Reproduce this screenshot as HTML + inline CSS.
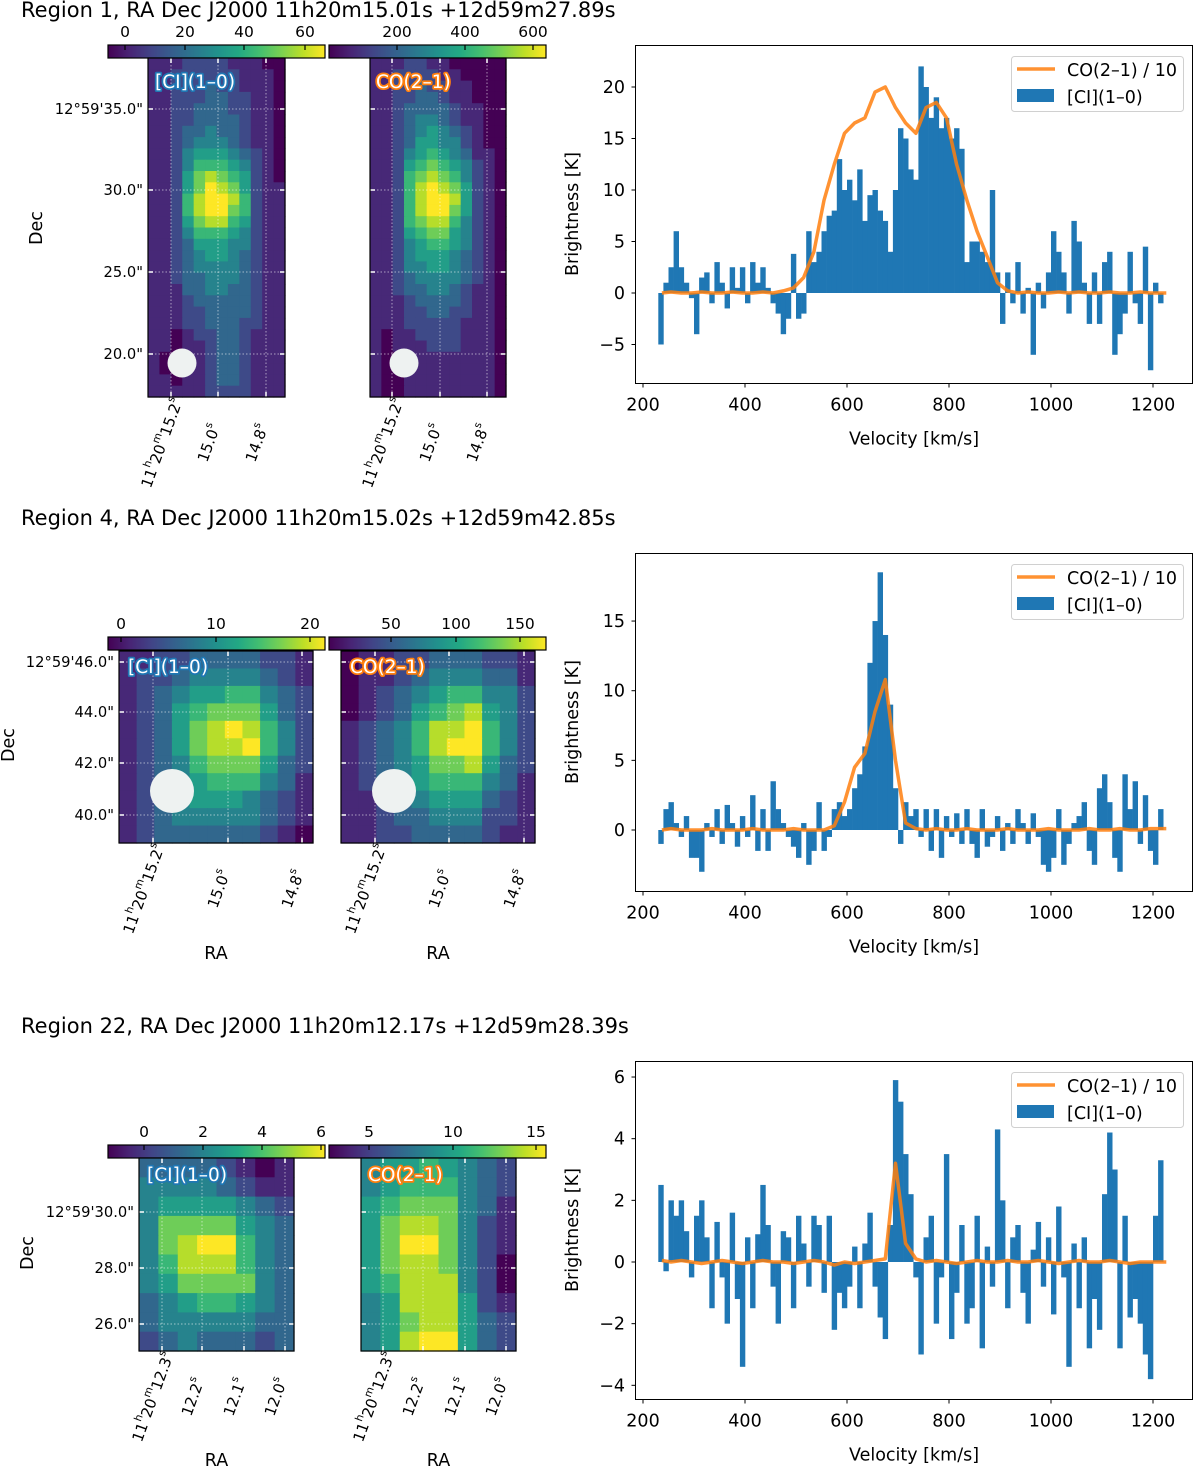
<!DOCTYPE html>
<html><head><meta charset="utf-8">
<style>
html,body{margin:0;padding:0;background:#fff;}
svg{display:block;font-family:"DejaVu Sans","Liberation Sans",sans-serif;}
</style></head>
<body>
<svg id="fig" xmlns="http://www.w3.org/2000/svg" width="1200" height="1468" viewBox="0 0 1200 1468">
<defs>
<linearGradient id="viridis" x1="0" x2="1" y1="0" y2="0">
<stop offset="0" stop-color="#440154"/><stop offset="0.1" stop-color="#482475"/><stop offset="0.2" stop-color="#414487"/><stop offset="0.3" stop-color="#355f8d"/><stop offset="0.4" stop-color="#2a788e"/><stop offset="0.5" stop-color="#21918c"/><stop offset="0.6" stop-color="#22a884"/><stop offset="0.7" stop-color="#44bf70"/><stop offset="0.8" stop-color="#7ad151"/><stop offset="0.9" stop-color="#bddf26"/><stop offset="1" stop-color="#fde725"/>
</linearGradient>
</defs>
<text x="21" y="17" font-size="21">Region 1, RA Dec J2000 11h20m15.01s +12d59m27.89s</text>
<text x="21" y="525" font-size="21">Region 4, RA Dec J2000 11h20m15.02s +12d59m42.85s</text>
<text x="21" y="1033" font-size="21">Region 22, RA Dec J2000 11h20m12.17s +12d59m28.39s</text>
<g id="layer"></g>
</svg>
<script>
// ---------- spectra data (velocity channels: start + step) ----------
const ciStart = 235, ciStep = 10;
const coStart = 235, coStep = 20;
const xTicks = [200, 400, 600, 800, 1000, 1200];

const region1CI = [-5,1,2.5,6,2.5,1,-0.5,-4,1.5,2,-1,3,1,-1.5,2.5,0.5,2.5,-1,3,1,2.5,0.5,-1,-2,-4,-2.5,3.8,-2.5,-2,6,3,4,6,7.5,8,13,10,11,9,12,7,9.5,10,8,7,4,10,16,15,12,11,22,20,17,19,16,17,15,16,14,3,5,5,4,3,10,2,-3,2,-1,3,-2,0.5,-6,1,-1.5,2,6,4,2,-2,7,5,1,-3,2,-3,3,4,-6,-4,-2,4,-1,-3,4.5,-7.5,1,-1];
const region1CO = [0,0.1,0,0,0.1,0,0,0.1,0,0,0.1,0,0.2,0.5,1.5,4,9,12.5,15.5,16.5,17,19.5,20,18,16.5,15.5,18,18.5,17,12.5,9,6,3.5,1,0.2,0,0.1,0,0,0.1,0,0.1,0,0,0.1,0,0,0.1,0,0];
const region1YTicks = [-5, 0, 5, 10, 15, 20];

const region4CI = [-1,1.5,2,0.5,-0.5,1,-2,-2,-3,0.5,-0.5,1.5,-1,1.8,0.5,-1.2,1,-0.5,2.5,-1.5,1.5,-1.5,3.5,1.5,0.5,-0.5,-1.2,-2,0.5,-2.5,-1.5,2,-1.5,-0.5,1.5,2,1,1.5,3,4,6,12,15,18.5,14,9,3,-1,2,1,1.5,-0.5,1.5,-1.5,1.5,-2,1,-0.5,1.2,-1,1.5,-1,-2,1.5,-1.2,-0.5,1,-1.5,0.5,-1,1.5,0.5,-1,1.2,-0.5,-2.5,-3,-2,1.5,-2.5,-1,0.5,1,2,-1.5,-2.5,3,4,2,-2,-3,4,1.5,3.5,-1,2.5,-1.5,-2.5,1.5];
const region4CO = [0,0.1,0,0,0,0.1,0,0,0,0.1,0,0,0,0.1,0,0,0,0.3,2,4.5,5.5,8.5,10.8,5,0.5,0.1,0,0.1,0,0,0.1,0,0,0,0.1,0,0,0,0.1,0,0,0,0.1,0,0,0.1,0,0,0.1,0.1];
const region4YTicks = [0, 5, 10, 15];

const region22CI = [2.5,-0.3,2,1.5,2,1,-0.5,1.5,2,0.8,-1.5,1.3,-0.5,-2,1.6,-1.2,-3.4,0.8,-1.5,0.9,2.5,1.2,-0.8,-2,1,0.8,-1.5,1.5,0.6,-0.8,1.5,1.2,-1,1.5,-2.2,-1,-1.5,-0.8,0.5,-1.5,0.6,1.6,-0.8,-1.8,-2.5,1.2,5.9,5.2,3.5,2.2,-0.5,-3,0.8,1.5,-2,-0.5,3.5,-2.5,-1,1.2,-2,-1.5,1.5,-2.8,0.5,-0.8,4.3,2,-1.5,0.8,1.2,-1,-2,0.4,1.3,-0.8,0.8,-1.7,1.8,-0.5,-3.4,0.6,-1.5,0.8,-2.8,-1.2,-2.2,2.2,4.2,3,-2.8,1.5,-1.8,-1.2,-2,-3,-3.8,1.5,3.3];
const region22CO = [0.05,0,0.05,0,-0.05,0,0.05,0,-0.05,0,0.05,0,0,-0.05,0,0.05,0,-0.1,0,-0.05,0,0.05,0.1,3.2,0.6,0.1,0,0.05,0,-0.05,0,0.05,0,0,0.05,0,0,0.05,0,-0.05,0,0.05,0,0,0.05,0,-0.05,0,0,0];
const region22YTicks = [-4, -2, 0, 2, 4, 6];

// ---------- map data (digits 0-9 = colormap fraction) ----------
const region1CIMap = ["111222211100","112222221110","112223221110","112223322110","112233322110","112233332110","112334332110","112344432110","112455543210","112466654210","112578765210","112579875211","112689986211","112689976211","112578865211","112466654211","112355544211","112345543211","112344443211","112334443211","111334433211","111233333211","111223333211","111223332211","110122332111","110112332111","100112332111","100112332111","110112332111","111112222111"];
const region1COMap = ["111221100000","112222110000","112232211000","112233211000","112333321100","112344321100","112345432100","112355442100","112456543110","112567654210","112678764210","112689875210","112689985210","112689975210","112678864210","112567754210","112456654210","112455543210","112445543210","112344443210","112334432110","111233332110","111223322110","111222221110","101122221110","101112221110","100111111110","100111111110","100111111110","100111111110"];
const region4CIMap = ["11223333221","12234444321","12345566432","12356777532","12357898642","12357889642","12346777532","12345666431","12345554321","12344444321","12333333210"];
const region4COMap = ["01122333221","01123444331","01234566442","01235678542","12346889642","12346899642","12345778532","12345666431","11234555321","11233444221","11223333211"];
const region22CIMap = ["33332101","44443211","45555432","47777543","47899643","46888643","45777743","34566543","34444433","23433323"];
const region22COMap = ["45565432","45666432","56777431","57887421","57997421","57887420","56888420","45888521","45788532","45899532"];

// colorbar tick labels
const cb1CI = ["0","20","40","60"], cb1CO = ["200","400","600"];
const cb4CI = ["0","10","20"], cb4CO = ["50","100","150"];
const cb22CI = ["0","2","4","6"], cb22CO = ["5","10","15"];

const NS = "http://www.w3.org/2000/svg";
const layer = document.getElementById("layer");
function mk(tag, attrs, parent) {
  const e = document.createElementNS(NS, tag);
  for (const k in attrs) e.setAttribute(k, attrs[k]);
  (parent || layer).appendChild(e);
  return e;
}
const VIR = ["#440154","#482475","#414487","#355f8d","#2a788e","#21918c","#22a884","#44bf70","#7ad151","#bddf26","#fde725"];
function hex(c){return [parseInt(c.substr(1,2),16),parseInt(c.substr(3,2),16),parseInt(c.substr(5,2),16)];}
function viridis(t){
  t = Math.max(0, Math.min(1, t));
  const f = t*10, i = Math.min(9, Math.floor(f)), r = f - i;
  const a = hex(VIR[i]), b = hex(VIR[i+1]);
  return "rgb(" + a.map((v,k)=>Math.round(v+(b[k]-v)*r)).join(",") + ")";
}

// ---------- spectrum ----------
function xs(v){ return 643 + (v - 200) * 0.51; }
function drawSpectrum(cfg) {
  const ys = v => cfg.y0 - v * cfg.ppu;
  const g = mk("g", {});
  
  
  cfg.ci.forEach((val, i) => {
    const v = ciStart + i * ciStep;
    const x = xs(v - ciStep / 2), w = ciStep * 0.51;
    const y = Math.min(ys(val), cfg.y0), h = Math.abs(ys(val) - cfg.y0);
    const r = mk("rect", {x: x, y: y, width: w + 0.3, height: Math.max(h, 0.5), fill: "#1f77b4"}, g);
    
    
  });
  let d = "";
  cfg.co.forEach((val, i) => {
    const v = Math.min(Math.max(coStart + i * coStep, 237), 1226);
    d += (i === 0 ? "M" : "L") + xs(v).toFixed(1) + "," + ys(val).toFixed(1);
  });
  d += "L" + xs(1226).toFixed(1) + "," + ys(cfg.co[cfg.co.length - 1]).toFixed(1);
  const line = mk("path", {d: d, fill: "none", stroke: "#ff7f0e", "stroke-width": 3.5, "stroke-opacity": 0.85, "stroke-linejoin": "round"}, g);
  
  
  const fr = mk("rect", {x: 635.5, y: cfg.top + 0.5, width: 557, height: 338, fill: "none", stroke: "#000", "stroke-width": 1}, g);
  
  
  const bottom = cfg.top + 338.5;
  xTicks.forEach(t => {
    mk("line", {x1: xs(t), x2: xs(t), y1: bottom, y2: bottom + 4, stroke: "#000"}, g);
    const tl = mk("text", {x: xs(t), y: bottom + 27, "font-size": 17.5, "text-anchor": "middle"}, g);
    tl.textContent = String(t);
    
    
  });
  cfg.yTicks.forEach(t => {
    mk("line", {x1: 631.5, x2: 635.5, y1: ys(t), y2: ys(t), stroke: "#000"}, g);
    const tl = mk("text", {x: 625, y: ys(t) + 6, "font-size": 17.5, "text-anchor": "end"}, g);
    tl.textContent = (t < 0 ? "\u2212" + (-t) : String(t));
    
    
  });
  const xl = mk("text", {x: 914, y: bottom + 61, "font-size": 17.5, "text-anchor": "middle"}, g);
  xl.textContent = "Velocity [km/s]";
  
  
  const cy = cfg.top + 169;
  const yl = mk("text", {x: 578, y: cy, "font-size": 17.5, "text-anchor": "middle", transform: "rotate(-90,578," + cy + ")"}, g);
  yl.textContent = "Brightness [K]";
  
  
  const lg = mk("g", {}, g);
  
  
  const lt = cfg.top + 11;
  mk("rect", {x: 1011.5, y: lt + 0.5, width: 172, height: 55, rx: 3, fill: "#fff", "fill-opacity": 0.8, stroke: "#d0d0d0"}, lg);
  mk("line", {x1: 1017, x2: 1055, y1: lt + 13, y2: lt + 13, stroke: "#ff7f0e", "stroke-width": 3.5, "stroke-opacity": 0.85}, lg);
  mk("rect", {x: 1017, y: lt + 33, width: 37, height: 13, fill: "#1f77b4"}, lg);
  const t1 = mk("text", {x: 1067, y: lt + 20, "font-size": 17.5}, lg);
  t1.textContent = "CO(2\u20131) / 10";
  
  
  const t2 = mk("text", {x: 1067, y: lt + 47, "font-size": 17.5}, lg);
  t2.textContent = "[CI](1\u20130)";
  
  
}

// ---------- map ----------
function drawMap(m) {
  const g = mk("g", {});
  
  
  const rows = m.grid.length, cols = m.grid[0].length;
  const cw = (m.x1 - m.x0) / cols, ch = (m.y1 - m.y0) / rows;
  m.grid.forEach((row, r) => {
    for (let c = 0; c < cols; c++) {
      const cell = mk("rect", {x: m.x0 + c * cw, y: m.y0 + r * ch, width: cw + 0.6, height: ch + 0.6, fill: viridis(+row[c] / 9)}, g);
      
      
    }
  });
  m.gx.forEach(x => {
    mk("line", {x1: x, x2: x, y1: m.y0, y2: m.y1, stroke: "#fff", "stroke-opacity": 0.55, "stroke-dasharray": "1.5,2"}, g);
    mk("line", {x1: x, x2: x, y1: m.y0, y2: m.y0 + 5, stroke: "#fff", "stroke-width": 1.5}, g);
    mk("line", {x1: x, x2: x, y1: m.y1 - 5, y2: m.y1, stroke: "#fff", "stroke-width": 1.5}, g);
  });
  m.gy.forEach(y => {
    mk("line", {x1: m.x0, x2: m.x1, y1: y, y2: y, stroke: "#fff", "stroke-opacity": 0.55, "stroke-dasharray": "1.5,2"}, g);
    mk("line", {x1: m.x0, x2: m.x0 + 5, y1: y, y2: y, stroke: "#fff", "stroke-width": 1.5}, g);
    mk("line", {x1: m.x1 - 5, x2: m.x1, y1: y, y2: y, stroke: "#fff", "stroke-width": 1.5}, g);
  });
  if (m.beam) {
    const b = mk("circle", {cx: m.beam[0], cy: m.beam[1], r: m.beam[2], fill: "#eef2f1"}, g);
    
    
  }
  mk("rect", {x: m.x0, y: m.y0, width: m.x1 - m.x0, height: m.y1 - m.y0, fill: "none", stroke: "#000", "stroke-width": 1.2}, g);
  const lab = mk("text", {x: m.x0 + m.lx, y: m.y0 + m.ly, "font-size": 18.5, fill: "#fff", stroke: m.stroke, "stroke-width": 3.5, "paint-order": "stroke", "stroke-linejoin": "round"}, g);
  lab.textContent = m.label;
  
  
  m.ra.forEach((lbl, i) => {
    const cx = m.gx[i] - 9, cy = m.y1 + 46;
    const t = mk("text", {x: cx, y: cy, "font-size": 15, "text-anchor": "middle", "dominant-baseline": "central", transform: "rotate(-70," + cx + "," + cy + ")"}, g);
    t.innerHTML = lbl;
    
    
  });
  if (m.dec) {
    m.dec.forEach((lbl, i) => {
      const t = mk("text", {x: m.x0 - 5, y: m.gy[i] + 5, "font-size": 14.7, "text-anchor": "end"}, g);
      t.textContent = lbl;
      
      
    });
  }
  if (m.raTitle) {
    const t = mk("text", {x: (m.x0 + m.x1) / 2, y: m.raTitle, "font-size": 17.5, "text-anchor": "middle"}, g);
    t.textContent = "RA";
    
    
  }
}
function drawColorbar(x0, x1, y0, labels, tickX) {
  const g = mk("g", {});
  
  
  mk("rect", {x: x0, y: y0, width: x1 - x0, height: 13, fill: "url(#viridis)", stroke: "#000", "stroke-width": 1.2}, g);
  labels.forEach((l, i) => {
    mk("line", {x1: tickX[i], x2: tickX[i], y1: y0, y2: y0 + 5, stroke: "#000", "stroke-width": 1.2}, g);
    const t = mk("text", {x: tickX[i], y: y0 - 8, "font-size": 15.5, "text-anchor": "middle"}, g);
    t.textContent = l;
    
    
  });
}
function decTitle(x, y) {
  const t = mk("text", {x: x, y: y, "font-size": 17.5, "text-anchor": "middle", transform: "rotate(-90," + x + "," + y + ")"});
  t.textContent = "Dec";
  
  
}
const S = '<tspan font-size="10.5" dy="-6">', E = '</tspan><tspan dy="6">';
function ra(base, sec) { return base ? '11' + S + 'h' + E + '20' + '</tspan>' + S + 'm' + E + sec + '</tspan>' + S + 's</tspan>' : sec + S + 's</tspan>'; }

// Row 1
drawColorbar(108, 325, 45, cb1CI, [125, 185, 244, 305]);
drawColorbar(329, 546, 45, cb1CO, [397, 465, 533]);
drawMap({name: "region-1-ci-map", grid: region1CIMap, x0: 148, x1: 285, y0: 58, y1: 397, gx: [171, 218, 266], gy: [109, 190, 272, 354], beam: [182, 363, 14.5], label: "[CI](1\u20130)", stroke: "#1f77b4", lx: 7, ly: 30, ra: [ra(1, "15.2"), ra(0, "15.0"), ra(0, "14.8")], dec: ["12\u00b059'35.0\"", "30.0\"", "25.0\"", "20.0\""]});
drawMap({name: "region-1-co-map", grid: region1COMap, x0: 370, x1: 506, y0: 58, y1: 397, gx: [392, 440, 487], gy: [109, 190, 272, 354], beam: [404, 363, 14.5], label: "CO(2\u20131)", stroke: "#ff7f0e", lx: 6, ly: 30, ra: [ra(1, "15.2"), ra(0, "15.0"), ra(0, "14.8")]});
decTitle(42, 228);
drawSpectrum({name: "region-1", ci: region1CI, co: region1CO, yTicks: region1YTicks, y0: 293, ppu: 10.3, top: 45});

// Row 2
drawColorbar(108, 325, 637, cb4CI, [121, 216, 310]);
drawColorbar(329, 546, 637, cb4CO, [391, 456, 520]);
drawMap({name: "region-4-ci-map", grid: region4CIMap, x0: 119, x1: 313, y0: 651, y1: 843, gx: [153, 228, 302], gy: [662, 712, 763, 815], beam: [172, 791, 22], label: "[CI](1\u20130)", stroke: "#1f77b4", lx: 9, ly: 22, ra: [ra(1, "15.2"), ra(0, "15.0"), ra(0, "14.8")], dec: ["12\u00b059'46.0\"", "44.0\"", "42.0\"", "40.0\""], raTitle: 959});
drawMap({name: "region-4-co-map", grid: region4COMap, x0: 341, x1: 535, y0: 651, y1: 843, gx: [375, 449, 524], gy: [662, 712, 763, 815], beam: [394, 791, 22], label: "CO(2\u20131)", stroke: "#ff7f0e", lx: 9, ly: 22, ra: [ra(1, "15.2"), ra(0, "15.0"), ra(0, "14.8")], raTitle: 959});
decTitle(14, 745);
drawSpectrum({name: "region-4", ci: region4CI, co: region4CO, yTicks: region4YTicks, y0: 830, ppu: 13.93, top: 553});

// Row 3
drawColorbar(108, 325, 1145, cb22CI, [144, 203, 262, 321]);
drawColorbar(329, 546, 1145, cb22CO, [369, 453, 536]);
drawMap({name: "region-22-ci-map", grid: region22CIMap, x0: 139, x1: 294, y0: 1158, y1: 1351, gx: [162, 202, 244, 285], gy: [1212, 1268, 1324], label: "[CI](1\u20130)", stroke: "#1f77b4", lx: 8, ly: 23, ra: [ra(1, "12.3"), ra(0, "12.2"), ra(0, "12.1"), ra(0, "12.0")], dec: ["12\u00b059'30.0\"", "28.0\"", "26.0\""], raTitle: 1466});
drawMap({name: "region-22-co-map", grid: region22COMap, x0: 361, x1: 516, y0: 1158, y1: 1351, gx: [383, 423, 465, 506], gy: [1212, 1268, 1324], label: "CO(2\u20131)", stroke: "#ff7f0e", lx: 7, ly: 23, ra: [ra(1, "12.3"), ra(0, "12.2"), ra(0, "12.1"), ra(0, "12.0")], raTitle: 1466});
decTitle(33, 1253);
drawSpectrum({name: "region-22", ci: region22CI, co: region22CO, yTicks: region22YTicks, y0: 1262, ppu: 30.83, top: 1061});
</script>
</body></html>
